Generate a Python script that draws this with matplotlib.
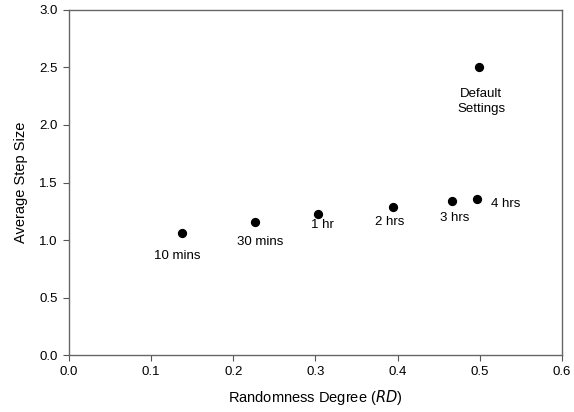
import matplotlib.pyplot as plt

plt.rcParams['font.family'] = ['Liberation Sans', 'DejaVu Sans']

# data
rd = [0.138, 0.226, 0.303, 0.395, 0.466, 0.497, 0.4995]
step = [1.058, 1.159, 1.229, 1.290, 1.336, 1.357, 2.50]
labels = ['10 mins', '30 mins', '1 hr', '2 hrs', '3 hrs', '4 hrs', 'Default\nSettings']
# label offsets in pixels (dx, dy) relative to each point
offsets = [(-5, -23), (6, -20), (5, -11), (-4, -15), (3, -17), (28, -5), (2, -34)]

fig = plt.figure(figsize=(5.74, 4.12), dpi=100)
ax = fig.add_axes([0.120, 0.138, 0.859, 0.838])

ax.scatter(rd, step, s=32, c='black', zorder=3)
for x, y, lab, (dx, dy) in zip(rd, step, labels, offsets):
    ax.annotate(lab, (x, y), xytext=(dx * 0.72, dy * 0.72), textcoords='offset points',
                ha='center', va='center', fontsize=9.5, linespacing=1.3)

ax.set_xlim(0, 0.6)
ax.set_ylim(0, 3.0)
ax.set_xticks([0.0, 0.1, 0.2, 0.3, 0.4, 0.5, 0.6])
ax.set_yticks([0.0, 0.5, 1.0, 1.5, 2.0, 2.5, 3.0])
ax.xaxis.set_major_formatter(plt.FormatStrFormatter('%.1f'))
ax.yaxis.set_major_formatter(plt.FormatStrFormatter('%.1f'))
ax.tick_params(direction='out', length=4, width=0.8, labelsize=9.5, color='#555555', pad=4)
for sp in ax.spines.values():
    sp.set_color('#666666')
    sp.set_linewidth(1.0)

ax.set_xlabel('Randomness Degree ($\\it{RD}$)', fontsize=10.5, labelpad=7)
ax.set_ylabel('Average Step Size', fontsize=10.5, labelpad=8)

fig.savefig('out.png', dpi=100)
